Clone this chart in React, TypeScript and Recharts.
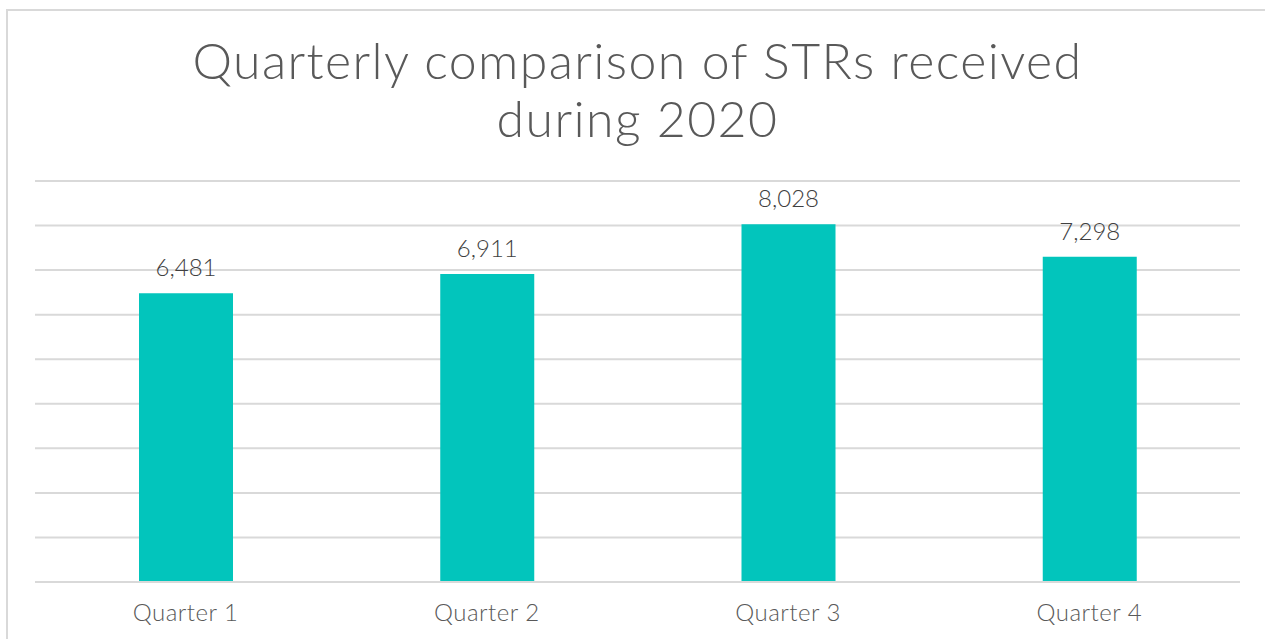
import React from "react";
import { BarChart, Bar, XAxis, YAxis, CartesianGrid, LabelList } from "recharts";

const quarters = ["Quarter 1", "Quarter 2", "Quarter 3", "Quarter 4"];
const strCounts = [6481, 6911, 8028, 7298];
const yTicks = [0, 1000, 2000, 3000, 4000, 5000, 6000, 7000, 8000, 9000];
const titleLines = ["Quarterly comparison of STRs received", "during 2020"];

const data = quarters.map((q, i) => ({ quarter: q, value: strCounts[i] }));

const FONT = "Lato, 'Open Sans', sans-serif";

export default function App() {
  return (
    <div style={{ position: "absolute", left: 0, top: 0, width: 1265, height: 639, background: "#fff", overflow: "hidden", fontFamily: FONT }}>
      <div style={{ position: "absolute", left: 6, top: 9, width: 1400, height: 700, borderTop: "2px solid #d9d9d9", borderLeft: "2px solid #d9d9d9" }} />
      <div style={{ position: "absolute", left: 0, top: 31, width: 1275, textAlign: "center", color: "#595959", fontSize: 50, lineHeight: "58px", fontWeight: 300, letterSpacing: 1.4 }}>
        {titleLines.map((t) => (
          <div key={t}>{t}</div>
        ))}
      </div>
      <div style={{ position: "absolute", left: 0, top: 0 }}>
        <BarChart width={1265} height={639} data={data} margin={{ top: 181, right: 25, bottom: 27, left: 35 }} barSize={94}>
          <CartesianGrid vertical={false} stroke="#d9d9d9" strokeWidth={2} />
          <YAxis hide domain={[0, 9000]} ticks={yTicks} />
          <XAxis
            dataKey="quarter"
            height={30}
            axisLine={{ stroke: "#d9d9d9", strokeWidth: 2 }}
            tickLine={false}
            tick={{ fontSize: 24, fill: "#595959", fontFamily: FONT, fontWeight: 300, letterSpacing: 0.5 }}
            dy={14}
          />
          <Bar dataKey="value" fill="#02C5BC" isAnimationActive={false}>
            <LabelList
              dataKey="value"
              position="top"
              offset={17}
              formatter={(v: number) => v.toLocaleString("en-US")}
              style={{ fontSize: 24, fill: "#404040", fontFamily: FONT, fontWeight: 300 }}
            />
          </Bar>
        </BarChart>
      </div>
    </div>
  );
}
